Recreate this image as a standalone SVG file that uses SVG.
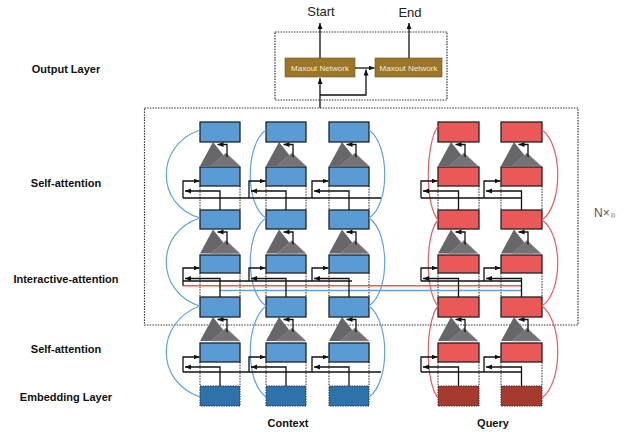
<svg xmlns="http://www.w3.org/2000/svg" xmlns:xlink="http://www.w3.org/1999/xlink" width="624" height="432" viewBox="0 0 624 432">
<style>
.lbl{font-family:"Liberation Sans",Arial,sans-serif;font-weight:bold;font-size:11px;fill:#111;text-anchor:middle}
.top{font-family:"Liberation Sans",Arial,sans-serif;font-size:13px;fill:#222;text-anchor:middle}
.mx{font-family:"Liberation Sans",Arial,sans-serif;font-size:8px;fill:#f3ead6;text-anchor:middle}
.bb{fill:#5b9bd5;stroke:#222;stroke-width:1.3}
.br{fill:#eb5858;stroke:#222;stroke-width:1.3}
.eb{fill:#2d72aa;stroke:#333;stroke-width:1;stroke-dasharray:1.5 1}
.er{fill:#a63a2f;stroke:#333;stroke-width:1;stroke-dasharray:1.5 1}
.mxb{fill:#9c7628;stroke:#6e5418;stroke-width:0.6}
.dash{stroke:#222;stroke-width:1;stroke-dasharray:1.5 1.2;fill:none}
.frame{fill:none;stroke:#333;stroke-width:1.2;stroke-dasharray:1.5 1.2}
.ln{fill:none;stroke:#111;stroke-width:1.3}
.cb{fill:none;stroke:#5ea3de;stroke-width:1.2}
.cr{fill:none;stroke:#ee5a5a;stroke-width:1.2}
.t1{fill:#66666b}
.t2{fill:#727277;stroke:#94949a;stroke-width:0.6}
</style>
<defs>
<marker id="ah" markerUnits="userSpaceOnUse" markerWidth="7" markerHeight="6" refX="6" refY="2.5" orient="auto"><path d="M0,0 L6,2.5 L0,5 z" fill="#111"/></marker>
<g id="tri">
<polygon class="t1" points="0,24 13,0 32,24"/>
<polygon class="t2" points="11,24 26,11 40,24"/>
<path class="ln" d="M27,15 V2.5 H17.5" marker-end="url(#ah)"/>
</g>
</defs>

<g id="labels">
<text class="lbl" x="66" y="72.5">Output Layer</text>
<text class="lbl" x="66" y="187">Self-attention</text>
<text class="lbl" x="66" y="283">Interactive-attention</text>
<text class="lbl" x="66" y="353">Self-attention</text>
<text class="lbl" x="66" y="401">Embedding Layer</text>
<text class="lbl" x="288" y="427">Context</text>
<text class="lbl" x="493" y="427">Query</text>
<text class="top" x="321" y="16">Start</text>
<text class="top" x="410" y="17">End</text>
<text x="594" y="217" font-family="'Liberation Sans',Arial,sans-serif" font-size="12" fill="#555">N×<tspan font-size="5" dx="1">(i)</tspan></text>
</g>

<g id="frames">
<rect class="frame" x="144.5" y="108" width="433.5" height="217"/>
<rect class="frame" x="275" y="32" width="172" height="68"/>
</g>

<g id="maxout1"><rect class="mxb" x="285" y="58" width="70" height="19"/><text class="mx" x="320" y="70.5">Maxout Network</text></g>
<g id="maxout2"><rect class="mxb" x="375" y="58" width="67" height="19"/><text class="mx" x="408.5" y="70.5">Maxout Network</text></g>

<g id="attn">
<use xlink:href="#tri" x="200" y="142"/><use xlink:href="#tri" x="266" y="142"/><use xlink:href="#tri" x="329" y="142"/><use xlink:href="#tri" x="438" y="142"/><use xlink:href="#tri" x="501" y="142"/>
<use xlink:href="#tri" x="200" y="229.5"/><use xlink:href="#tri" x="266" y="229.5"/><use xlink:href="#tri" x="329" y="229.5"/><use xlink:href="#tri" x="438" y="229.5"/><use xlink:href="#tri" x="501" y="229.5"/>
<use xlink:href="#tri" x="200" y="317"/><use xlink:href="#tri" x="266" y="317"/><use xlink:href="#tri" x="329" y="317"/><use xlink:href="#tri" x="438" y="317"/><use xlink:href="#tri" x="501" y="317"/>
</g>

<g id="c1a"><rect class="bb" x="200" y="122" width="40" height="20"/></g>
<g id="c1b"><rect class="bb" x="200" y="167" width="40" height="19"/></g>
<g id="c1c"><rect class="bb" x="200" y="210" width="40" height="19"/></g>
<g id="c1d"><rect class="bb" x="200" y="255" width="40" height="18"/></g>
<g id="c1e"><rect class="bb" x="200" y="297" width="40" height="20"/></g>
<g id="c1f"><rect class="bb" x="200" y="343" width="40" height="19"/></g>
<g id="c1g"><rect class="eb" x="200" y="386" width="40" height="20"/></g>
<g id="c2a"><rect class="bb" x="266" y="122" width="40" height="20"/></g>
<g id="c2b"><rect class="bb" x="266" y="167" width="40" height="19"/></g>
<g id="c2c"><rect class="bb" x="266" y="210" width="40" height="19"/></g>
<g id="c2d"><rect class="bb" x="266" y="255" width="40" height="18"/></g>
<g id="c2e"><rect class="bb" x="266" y="297" width="40" height="20"/></g>
<g id="c2f"><rect class="bb" x="266" y="343" width="40" height="19"/></g>
<g id="c2g"><rect class="eb" x="266" y="386" width="40" height="20"/></g>
<g id="c3a"><rect class="bb" x="329" y="122" width="40" height="20"/></g>
<g id="c3b"><rect class="bb" x="329" y="167" width="40" height="19"/></g>
<g id="c3c"><rect class="bb" x="329" y="210" width="40" height="19"/></g>
<g id="c3d"><rect class="bb" x="329" y="255" width="40" height="18"/></g>
<g id="c3e"><rect class="bb" x="329" y="297" width="40" height="20"/></g>
<g id="c3f"><rect class="bb" x="329" y="343" width="40" height="19"/></g>
<g id="c3g"><rect class="eb" x="329" y="386" width="40" height="20"/></g>
<g id="q1a"><rect class="br" x="438" y="122" width="41" height="20"/></g>
<g id="q1b"><rect class="br" x="438" y="167" width="41" height="19"/></g>
<g id="q1c"><rect class="br" x="438" y="210" width="41" height="19"/></g>
<g id="q1d"><rect class="br" x="438" y="255" width="41" height="18"/></g>
<g id="q1e"><rect class="br" x="438" y="297" width="41" height="20"/></g>
<g id="q1f"><rect class="br" x="438" y="343" width="41" height="19"/></g>
<g id="q1g"><rect class="er" x="438" y="386" width="41" height="20"/></g>
<g id="q2a"><rect class="br" x="501" y="122" width="41" height="20"/></g>
<g id="q2b"><rect class="br" x="501" y="167" width="41" height="19"/></g>
<g id="q2c"><rect class="br" x="501" y="210" width="41" height="19"/></g>
<g id="q2d"><rect class="br" x="501" y="255" width="41" height="18"/></g>
<g id="q2e"><rect class="br" x="501" y="297" width="41" height="20"/></g>
<g id="q2f"><rect class="br" x="501" y="343" width="41" height="19"/></g>
<g id="q2g"><rect class="er" x="501" y="386" width="41" height="20"/></g>

<g id="connectors">
<path class="dash" d="M200,186V210M240,186V210M266,186V210M306,186V210M329,186V210M369,186V210M438,186V210M479,186V210M501,186V210M542,186V210"/>
<path class="dash" d="M200,273V297M240,273V297M266,273V297M306,273V297M329,273V297M369,273V297M438,273V297M479,273V297M501,273V297M542,273V297"/>
<path class="dash" d="M200,362V386M240,362V386M266,362V386M306,362V386M329,362V386M369,362V386M438,362V386M479,362V386M501,362V386M542,362V386"/>

<path class="cb" d="M200,130C155,145 155,205 200,218M200,218C155,232 155,292 200,306M200,306C155,322 155,382 200,397"/>
<path class="cb" d="M266,130C245,145 245,205 266,218M266,218C245,232 245,292 266,306M266,306C245,322 245,382 266,397"/>
<path class="cb" d="M369,130C390,145 390,205 369,218M369,218C390,232 390,292 369,306M369,306C390,322 390,382 369,397"/>
<path class="cr" d="M438,126C425,145 425,205 438,220M438,220C425,234 425,292 438,306M438,306C425,322 425,382 438,398"/>
<path class="cr" d="M542,130C563,145 563,205 542,220M542,220C563,234 563,292 542,306M542,306C563,322 563,382 542,398"/>

<path class="ln" d="M183,198H381M183,281H352M183,372H381M421,198H521.5M421,281H521.5M421,372H521.5"/>
<path fill="none" stroke="#ee5a5a" stroke-width="1.6" d="M183,285.7H521.5"/>
<path fill="none" stroke="#5ea3de" stroke-width="1.6" d="M220,290.5H521.5"/>

<path class="ln" marker-end="url(#ah)" d="M220,210V191H185"/>
<path class="ln" marker-end="url(#ah)" d="M183,198V181H199.5"/>
<path class="ln" marker-end="url(#ah)" d="M286,210V191H251"/>
<path class="ln" marker-end="url(#ah)" d="M249,198V181H265.5"/>
<path class="ln" marker-end="url(#ah)" d="M349,210V191H314"/>
<path class="ln" marker-end="url(#ah)" d="M312,198V181H328.5"/>
<path class="ln" marker-end="url(#ah)" d="M458.5,210V191H423"/>
<path class="ln" marker-end="url(#ah)" d="M421,198V181H437.5"/>
<path class="ln" marker-end="url(#ah)" d="M521.5,210V191H486"/>
<path class="ln" marker-end="url(#ah)" d="M484,198V181H500.5"/>
<path class="ln" marker-end="url(#ah)" d="M220,297V278.5H185"/>
<path class="ln" marker-end="url(#ah)" d="M183,285.7V268H199.5"/>
<path class="ln" marker-end="url(#ah)" d="M286,297V278.5H251"/>
<path class="ln" marker-end="url(#ah)" d="M249,281V268H265.5"/>
<path class="ln" marker-end="url(#ah)" d="M349,297V278.5H314"/>
<path class="ln" marker-end="url(#ah)" d="M312,281V268H328.5"/>
<path class="ln" marker-end="url(#ah)" d="M458.5,297V278.5H423"/>
<path class="ln" marker-end="url(#ah)" d="M421,281V268H437.5"/>
<path class="ln" marker-end="url(#ah)" d="M521.5,297V278.5H486"/>
<path class="ln" marker-end="url(#ah)" d="M484,281V268H500.5"/>
<path class="ln" marker-end="url(#ah)" d="M220,386V367H185"/>
<path class="ln" marker-end="url(#ah)" d="M183,372V357H199.5"/>
<path class="ln" marker-end="url(#ah)" d="M286,386V367H251"/>
<path class="ln" marker-end="url(#ah)" d="M249,372V357H265.5"/>
<path class="ln" marker-end="url(#ah)" d="M349,386V367H314"/>
<path class="ln" marker-end="url(#ah)" d="M312,372V357H328.5"/>
<path class="ln" marker-end="url(#ah)" d="M458.5,386V367H423"/>
<path class="ln" marker-end="url(#ah)" d="M421,372V357H437.5"/>
<path class="ln" marker-end="url(#ah)" d="M521.5,386V367H486"/>
<path class="ln" marker-end="url(#ah)" d="M484,372V357H500.5"/>

<path class="ln" marker-end="url(#ah)" d="M320,108V78"/>
<path class="ln" marker-end="url(#ah)" d="M320,95H366V69.5"/>
<path class="ln" marker-end="url(#ah)" d="M355,68H374.5"/>
<path class="ln" marker-end="url(#ah)" d="M320,58V23"/>
<path class="ln" marker-end="url(#ah)" d="M409,58V23"/>
</g>
</svg>
